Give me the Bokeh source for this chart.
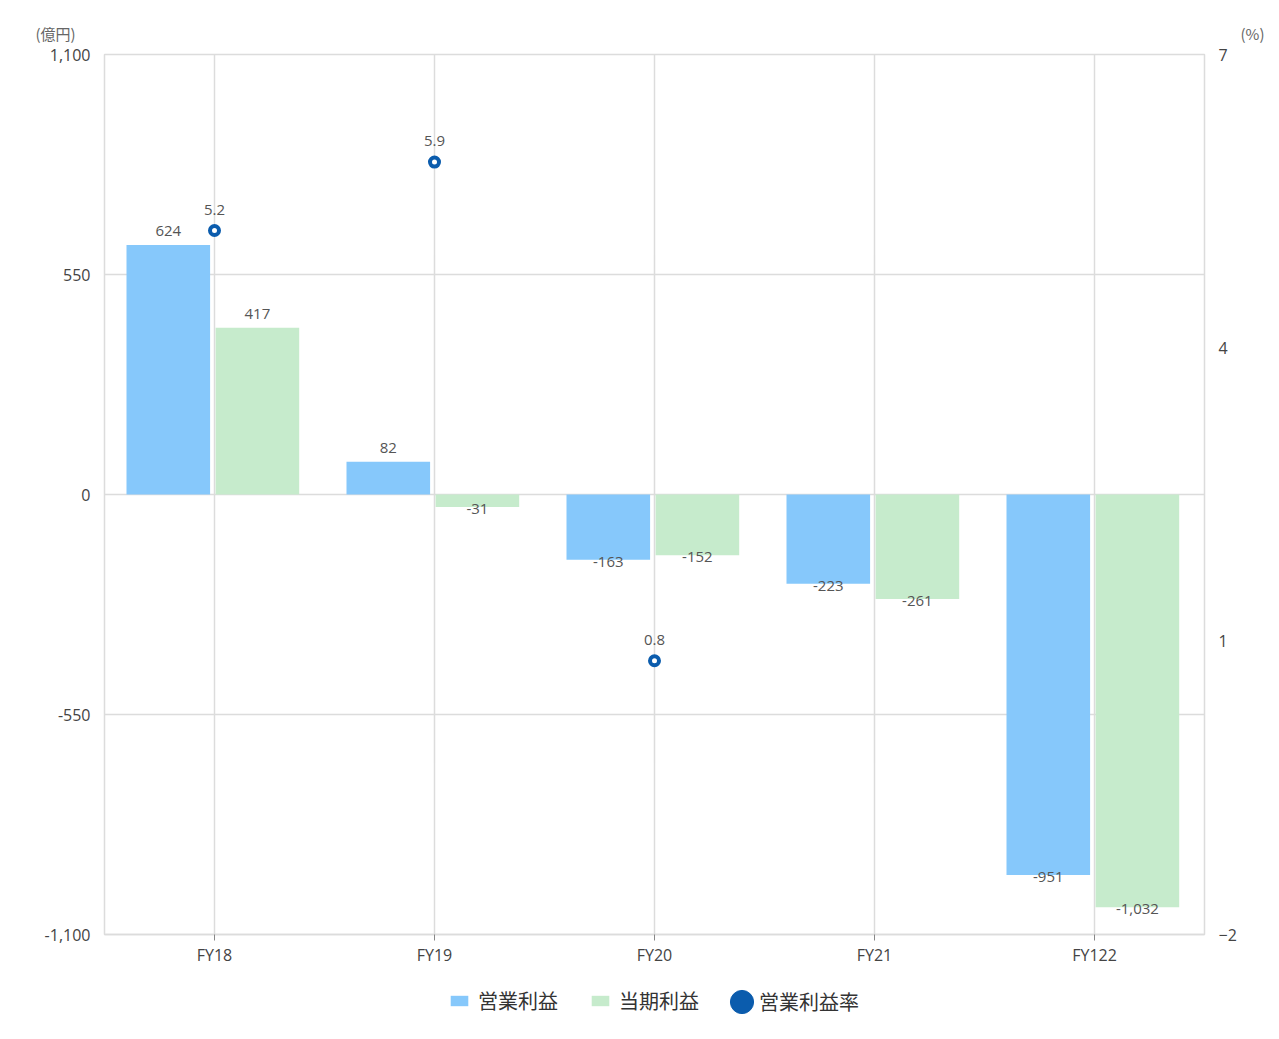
from bokeh.plotting import figure
from bokeh.layouts import column
from bokeh.models import (FactorRange, Range1d, LinearAxis, FixedTicker, NumeralTickFormatter,
                          ColumnDataSource, Legend, LegendItem)
from bokeh.transform import dodge
from bokeh.core.properties import value
from bokeh.embed import file_html
from bokeh.resources import INLINE

# ---- data ----
categories = ["FY18", "FY19", "FY20", "FY21", "FY122"]
operating_profit = [624, 82, -163, -223, -951]
net_profit = [417, -31, -152, -261, -1032]
margin_categories = ["FY18", "FY19", "FY20"]
operating_margin = [5.2, 5.9, 0.8]
left_ticks = [-1100, -550, 0, 550, 1100]
right_ticks = [-2, 1, 4, 7]
series_names = ["営業利益", "当期利益", "営業利益率"]
left_unit = "(億円)"
right_unit = "(%)"

# ---- style ----
BLUE = "#86C8FB"
GREEN = "#C6EBCC"
DARK = "#0B5CAD"
TXT = "#555555"
AX_TXT = "#444444"
GRID = "#DCDCDC"
NUM_FONT = value("Open Sans")
JP_FONT = "Noto Sans CJK JP"
W_TOTAL = 1275

# ---- header strip with unit labels ----
head = figure(width=W_TOTAL, height=44, x_range=Range1d(0, W_TOTAL), y_range=Range1d(0, 44),
              output_backend="svg", toolbar_location=None, x_axis_location=None,
              y_axis_location=None, min_border=0, outline_line_color=None,
              background_fill_color="white", border_fill_color="white")
head.frame_align = False
head.grid.visible = False
head.text(x=[35, 1240], y=[11, 11], text=[left_unit, right_unit], text_baseline="middle",
          text_align="left", text_font=value(JP_FONT), text_font_size="15px", text_color="#666666")

# ---- main chart ----
p = figure(x_range=FactorRange(factors=categories), y_range=Range1d(-1100, 1100),
           frame_width=1100, frame_height=880, output_backend="svg", toolbar_location=None,
           min_border_left=104, min_border_right=71, min_border_top=10, min_border_bottom=36,
           background_fill_color="white", border_fill_color="white",
           outline_line_color=GRID, outline_line_width=1.5)
p.frame_align = False
p.extra_y_ranges = {"pct": Range1d(-2, 7)}

ya = p.yaxis[0]
ya.ticker = FixedTicker(ticks=left_ticks)
ya.formatter = NumeralTickFormatter(format="0,0")
ya.axis_line_color = None
ya.major_tick_line_color = None
ya.major_tick_out = 0
ya.major_tick_in = 0
ya.minor_tick_line_color = None
ya.major_label_standoff = 14
ya.major_label_text_font = "Open Sans"
ya.major_label_text_font_size = "16px"
ya.major_label_text_color = AX_TXT

ra = LinearAxis(y_range_name="pct", ticker=FixedTicker(ticks=right_ticks))
ra.axis_line_color = None
ra.major_tick_line_color = None
ra.major_tick_out = 0
ra.major_tick_in = 0
ra.minor_tick_line_color = None
ra.major_label_standoff = 14
ra.major_label_text_font = "Open Sans"
ra.major_label_text_font_size = "16px"
ra.major_label_text_color = AX_TXT
p.add_layout(ra, "right")

xa = p.xaxis[0]
xa.axis_line_color = GRID
xa.axis_line_width = 1.5
xa.major_tick_line_color = "#888888"
xa.major_tick_out = 6
xa.major_tick_in = 0
xa.major_label_standoff = 3
xa.major_label_text_font = "Open Sans"
xa.major_label_text_font_size = "16px"
xa.major_label_text_color = AX_TXT

p.ygrid.ticker = FixedTicker(ticks=left_ticks)
p.ygrid.grid_line_color = GRID
p.ygrid.grid_line_width = 1.5
p.xgrid.grid_line_color = GRID
p.xgrid.grid_line_width = 1.5

src = ColumnDataSource(dict(
    x=categories,
    op=operating_profit,
    net=net_profit,
    op_lbl=[f"{v:,}" for v in operating_profit],
    net_lbl=[f"{v:,}" for v in net_profit],
    op_off=[-13.5 if v >= 0 else 2 for v in operating_profit],
    net_off=[-13.5 if v >= 0 else 2 for v in net_profit],
))
OFF_OP, OFF_NET, W = -0.21, 0.195, 0.38
p.vbar(x=dodge("x", OFF_OP, range=p.x_range), top="op", bottom=0, width=W,
       source=src, fill_color=BLUE, line_color=None)
p.vbar(x=dodge("x", OFF_NET, range=p.x_range), top="net", bottom=0, width=W,
       source=src, fill_color=GREEN, line_color=None)

p.text(x=dodge("x", OFF_OP, range=p.x_range), y="op", text="op_lbl", y_offset="op_off",
       source=src, text_align="center", text_baseline="middle",
       text_font=NUM_FONT, text_font_size="15px", text_color=TXT)
p.text(x=dodge("x", OFF_NET, range=p.x_range), y="net", text="net_lbl", y_offset="net_off",
       source=src, text_align="center", text_baseline="middle",
       text_font=NUM_FONT, text_font_size="15px", text_color=TXT)

msrc = ColumnDataSource(dict(x=margin_categories, y=operating_margin,
                             lbl=[f"{v:.1f}" for v in operating_margin]))
p.scatter(x="x", y="y", source=msrc, y_range_name="pct", marker="circle", size=9,
          fill_color="white", line_color=DARK, line_width=4)
p.text(x="x", y="y", text="lbl", source=msrc, y_range_name="pct", y_offset=-21,
       text_align="center", text_baseline="middle",
       text_font=NUM_FONT, text_font_size="15px", text_color=TXT)

# ---- legend strip (swatch renderers sit outside the visible range) ----
lf = figure(width=W_TOTAL, height=60, x_range=Range1d(0, 1), y_range=Range1d(0, 1),
            output_backend="svg", toolbar_location=None, x_axis_location=None,
            y_axis_location=None, min_border=0, outline_line_color=None,
            background_fill_color="white", border_fill_color="white")
lf.frame_align = False
lf.grid.visible = False
lg_op = lf.vbar(x=[-5], top=[-5], bottom=[-6], width=0.1, fill_color=BLUE, line_color=None)
lg_net = lf.vbar(x=[-5], top=[-5], bottom=[-6], width=0.1, fill_color=GREEN, line_color=None)
lg_mg = lf.ellipse(x=[-5], y=[-5], width=10, height=10, width_units="screen",
                   height_units="screen", fill_color=DARK, line_color=DARK)

common = dict(orientation="horizontal", padding=0, margin=0, border_line_alpha=0,
              background_fill_alpha=0, label_text_font=JP_FONT, label_text_font_size="20px",
              label_text_color="#333333")
leg1 = Legend(items=[LegendItem(label=series_names[0], renderers=[lg_op]),
                     LegendItem(label=series_names[1], renderers=[lg_net])],
              location=(448, 15), glyph_width=22, glyph_height=13, label_height=22,
              label_standoff=8, spacing=31, **common)
leg2 = Legend(items=[LegendItem(label=series_names[2], renderers=[lg_mg])],
              location=(727, 14), glyph_width=29, glyph_height=29, label_standoff=3,
              **common)
lf.add_layout(leg1)
lf.add_layout(leg2)

layout = column(head, p, lf, spacing=0)
open("out.html", "w").write(file_html(layout, INLINE))
